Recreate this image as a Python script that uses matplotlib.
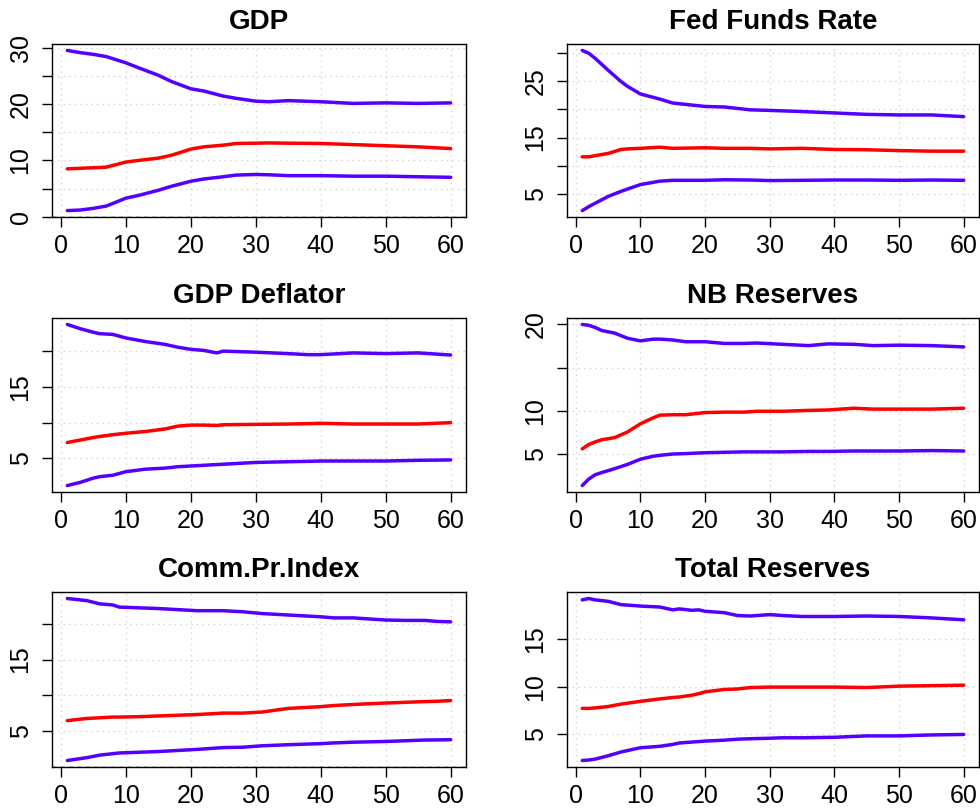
import matplotlib
matplotlib.use("Agg")
import matplotlib.pyplot as plt
import numpy as np

plt.rcParams['font.family'] = ['Liberation Sans', 'DejaVu Sans']

# ---------------- data ----------------
titles = ["GDP", "Fed Funds Rate", "GDP Deflator", "NB Reserves", "Comm.Pr.Index", "Total Reserves"]

gdp_x = [1, 3, 5, 7, 10, 12, 15, 17, 20, 22, 25, 27, 30, 32, 35, 40, 45, 50, 55, 60]
gdp_hi = [29.5, 29.1, 28.8, 28.4, 27.3, 26.4, 25.1, 24.0, 22.7, 22.3, 21.4, 21.0, 20.5, 20.4, 20.6, 20.4, 20.1, 20.2, 20.1, 20.2]
gdp_med = [8.5, 8.6, 8.7, 8.8, 9.7, 10.0, 10.4, 10.9, 12.0, 12.4, 12.7, 13.0, 13.05, 13.1, 13.05, 13.0, 12.8, 12.6, 12.4, 12.1]
gdp_lo = [1.1, 1.2, 1.5, 1.9, 3.3, 3.8, 4.7, 5.4, 6.3, 6.7, 7.1, 7.4, 7.5, 7.45, 7.3, 7.3, 7.2, 7.2, 7.1, 7.0]

ffr_x = [1, 2, 3, 5, 7, 8, 10, 13, 15, 20, 23, 27, 30, 35, 40, 45, 50, 55, 60]
ffr_hi = [30.4, 29.9, 29.0, 26.9, 24.9, 24.05, 22.7, 21.8, 21.1, 20.5, 20.4, 19.9, 19.8, 19.6, 19.35, 19.1, 19.0, 19.0, 18.7]
ffr_med = [11.6, 11.6, 11.8, 12.2, 12.9, 13.0, 13.1, 13.3, 13.1, 13.2, 13.1, 13.1, 13.0, 13.1, 12.9, 12.85, 12.7, 12.6, 12.6]
ffr_lo = [2.1, 2.8, 3.4, 4.6, 5.5, 5.9, 6.7, 7.3, 7.45, 7.45, 7.55, 7.5, 7.4, 7.45, 7.5, 7.5, 7.45, 7.5, 7.45]

def_x = [1, 3, 5, 6, 8, 10, 13, 16, 18, 20, 22, 24, 25, 30, 35, 38, 40, 45, 50, 55, 60]
def_hi = [23.8, 23.2, 22.7, 22.5, 22.4, 21.9, 21.4, 21.0, 20.6, 20.3, 20.15, 19.8, 20.05, 19.9, 19.7, 19.55, 19.55, 19.8, 19.7, 19.8, 19.5]
def_med = [7.2, 7.55, 7.9, 8.05, 8.3, 8.5, 8.75, 9.1, 9.5, 9.65, 9.65, 9.6, 9.7, 9.75, 9.8, 9.85, 9.9, 9.8, 9.8, 9.8, 10.0]
def_lo = [1.15, 1.6, 2.2, 2.4, 2.6, 3.1, 3.45, 3.6, 3.8, 3.9, 4.0, 4.1, 4.15, 4.4, 4.5, 4.55, 4.6, 4.6, 4.6, 4.7, 4.75]

nbr_x = [1, 2, 3, 4, 6, 8, 10, 12, 13, 15, 17, 20, 23, 26, 28, 32, 36, 39, 43, 46, 50, 55, 60]
nbr_hi = [20.0, 19.9, 19.65, 19.3, 19.0, 18.4, 18.1, 18.3, 18.3, 18.2, 18.0, 18.0, 17.8, 17.8, 17.85, 17.7, 17.55, 17.75, 17.7, 17.55, 17.6, 17.55, 17.4]
nbr_med = [5.6, 6.1, 6.4, 6.65, 6.9, 7.55, 8.5, 9.2, 9.5, 9.55, 9.55, 9.8, 9.85, 9.85, 9.95, 9.95, 10.05, 10.1, 10.3, 10.2, 10.2, 10.2, 10.3]
nbr_lo = [1.35, 2.1, 2.6, 2.85, 3.3, 3.8, 4.4, 4.75, 4.85, 5.0, 5.05, 5.15, 5.2, 5.25, 5.25, 5.25, 5.3, 5.3, 5.35, 5.35, 5.35, 5.4, 5.35]

cpi_x = [1, 4, 6, 8, 9, 12, 15, 18, 21, 25, 28, 31, 35, 40, 42, 45, 50, 53, 56, 58, 60]
cpi_hi = [23.5, 23.2, 22.75, 22.6, 22.3, 22.2, 22.1, 21.95, 21.8, 21.8, 21.65, 21.4, 21.2, 20.95, 20.8, 20.8, 20.5, 20.45, 20.45, 20.3, 20.25]
cpi_med = [6.5, 6.8, 6.9, 7.0, 7.0, 7.05, 7.15, 7.25, 7.35, 7.55, 7.55, 7.7, 8.2, 8.45, 8.6, 8.75, 8.95, 9.05, 9.15, 9.2, 9.3]
cpi_lo = [0.95, 1.35, 1.7, 1.9, 2.0, 2.1, 2.2, 2.35, 2.5, 2.75, 2.8, 3.0, 3.15, 3.3, 3.4, 3.5, 3.6, 3.7, 3.8, 3.82, 3.85]

tr_x = [1, 2, 3, 5, 7, 10, 13, 15, 16, 18, 19, 20, 23, 25, 27, 30, 32, 35, 40, 45, 50, 55, 60]
tr_hi = [19.15, 19.3, 19.15, 19.0, 18.65, 18.5, 18.4, 18.1, 18.2, 18.05, 18.1, 17.95, 17.8, 17.5, 17.45, 17.6, 17.5, 17.4, 17.4, 17.45, 17.4, 17.25, 17.05]
tr_med = [7.7, 7.7, 7.75, 7.9, 8.15, 8.45, 8.7, 8.85, 8.9, 9.1, 9.25, 9.45, 9.7, 9.75, 9.9, 9.95, 9.95, 9.95, 9.95, 9.9, 10.05, 10.1, 10.15]
tr_lo = [2.2, 2.25, 2.35, 2.7, 3.1, 3.55, 3.7, 3.9, 4.05, 4.15, 4.2, 4.25, 4.35, 4.45, 4.5, 4.55, 4.6, 4.6, 4.65, 4.8, 4.8, 4.9, 4.95]

x_ticks = [0, 10, 20, 30, 40, 50, 60]
y_ticks = [
    [0, 5, 10, 15, 20, 25, 30],
    [5, 10, 15, 20, 25, 30],
    [5, 10, 15, 20],
    [5, 10, 15, 20],
    [5, 10, 15, 20],
    [5, 10, 15],
]
y_labels = [
    ["0", "", "10", "", "20", "", "30"],
    ["5", "", "15", "", "25", ""],
    ["5", "", "15", ""],
    ["5", "10", "", "20"],
    ["5", "", "15", ""],
    ["5", "10", "15"],
]

panels = [
    (gdp_x, gdp_lo, gdp_med, gdp_hi),
    (ffr_x, ffr_lo, ffr_med, ffr_hi),
    (def_x, def_lo, def_med, def_hi),
    (nbr_x, nbr_lo, nbr_med, nbr_hi),
    (cpi_x, cpi_lo, cpi_med, cpi_hi),
    (tr_x, tr_lo, tr_med, tr_hi),
]

# ---------------- layout ----------------
W, H = 980, 809
fig = plt.figure(figsize=(W / 100, H / 100), dpi=100)

cols = [(52, 466), (567, 979)]
rows = [(44, 217), (318, 492), (592, 767)]

BLUE = "#5500FF"
RED = "#FF0000"

for i, (title, (xs, lo, med, hi)) in enumerate(zip(titles, panels)):
    r, c = divmod(i, 2)
    x0, x1 = cols[c]
    y0, y1 = rows[r]
    ax = fig.add_axes([x0 / W, 1 - y1 / H, (x1 - x0) / W, (y1 - y0) / H])
    ax.plot(xs, hi, color=BLUE, lw=2.5, solid_capstyle='round')
    ax.plot(xs, med, color=RED, lw=2.5, solid_capstyle='round')
    ax.plot(xs, lo, color=BLUE, lw=2.5, solid_capstyle='round')
    ax.axhline(0, color='black', lw=1.0, ls=(0, (3, 3)))

    allv = np.concatenate([lo, med, hi])
    vmin, vmax = allv.min(), allv.max()
    pad = 0.04 * (vmax - vmin)
    ax.set_ylim(vmin - pad, vmax + pad)
    xpad = 0.04 * (60 - 1)
    ax.set_xlim(1 - xpad, 60 + xpad)

    ax.set_xticks(x_ticks)
    ax.set_xticklabels([str(t) for t in x_ticks])
    ax.set_yticks(y_ticks[i])
    ax.set_yticklabels(y_labels[i], rotation=90, va='center')
    ax.tick_params(axis='both', direction='out', length=7, width=1.0, labelsize=18, color='black')
    ax.tick_params(axis='x', pad=5)
    ax.tick_params(axis='y', pad=7)

    ax.grid(True, color='#D3D3D3', ls=(0, (1, 3)), lw=1.0)
    ax.set_axisbelow(True)
    for s in ax.spines.values():
        s.set_linewidth(1.0)
        s.set_color('black')

    ax.set_title(title, fontsize=20, fontweight='bold', pad=11)

fig.savefig("out.png", dpi=100)
